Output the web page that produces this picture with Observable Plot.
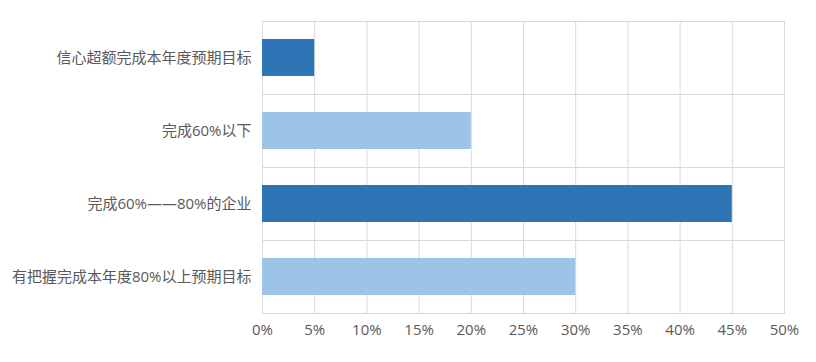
<!DOCTYPE html>
<html>
<head>
<meta charset="utf-8">
<script src="https://cdn.jsdelivr.net/npm/d3@7"></script>
<script src="https://cdn.jsdelivr.net/npm/@observablehq/plot@0.6"></script>
<style>
  html, body { margin: 0; padding: 0; background: #fff; }
  #chart svg { display: block; }
</style>
</head>
<body>
<div id="chart"></div>
<script>
const categories = ["信心超额完成本年度预期目标", "完成60%以下", "完成60%——80%的企业", "有把握完成本年度80%以上预期目标"];
const values = [5, 20, 45, 30];
const barColors = ["#2E75B6", "#9DC3E6", "#2E75B6", "#9DC3E6"];
const xTicks = [0, 5, 10, 15, 20, 25, 30, 35, 40, 45, 50];

const data = categories.map((c, i) => ({category: c, value: values[i], color: barColors[i]}));

const chart = Plot.plot({
  width: 816,
  height: 362,
  marginLeft: 262,
  marginRight: 32,
  marginTop: 21,
  marginBottom: 49,
  style: {fontFamily: "'Open Sans', 'Noto Sans CJK SC', sans-serif", fontSize: "15px", color: "#595959", background: "#fff"},
  x: {domain: [0, 50], ticks: xTicks, tickFormat: d => d + "%", label: null},
  y: {domain: categories, paddingInner: 0.5, paddingOuter: 0.25, label: null},
  marks: [
    Plot.ruleX(xTicks, {stroke: "#D9D9D9", strokeWidth: 1}),
    Plot.ruleY(categories, {dy: -36.5, stroke: "#D9D9D9", strokeWidth: 1}),
    Plot.frame({stroke: "#D9D9D9", strokeWidth: 1}),
    Plot.barX(data, {x: "value", y: "category", fill: "color"}),
    Plot.axisX({ticks: xTicks, tickFormat: d => d + "%", tickSize: 0, tickPadding: 11, fill: "#595959", label: null, fontSize: 15}),
    Plot.axisY({tickSize: 0, tickPadding: 11, fill: "#595959", label: null, fontSize: 15})
  ]
});
document.getElementById("chart").appendChild(chart);
</script>
</body>
</html>
